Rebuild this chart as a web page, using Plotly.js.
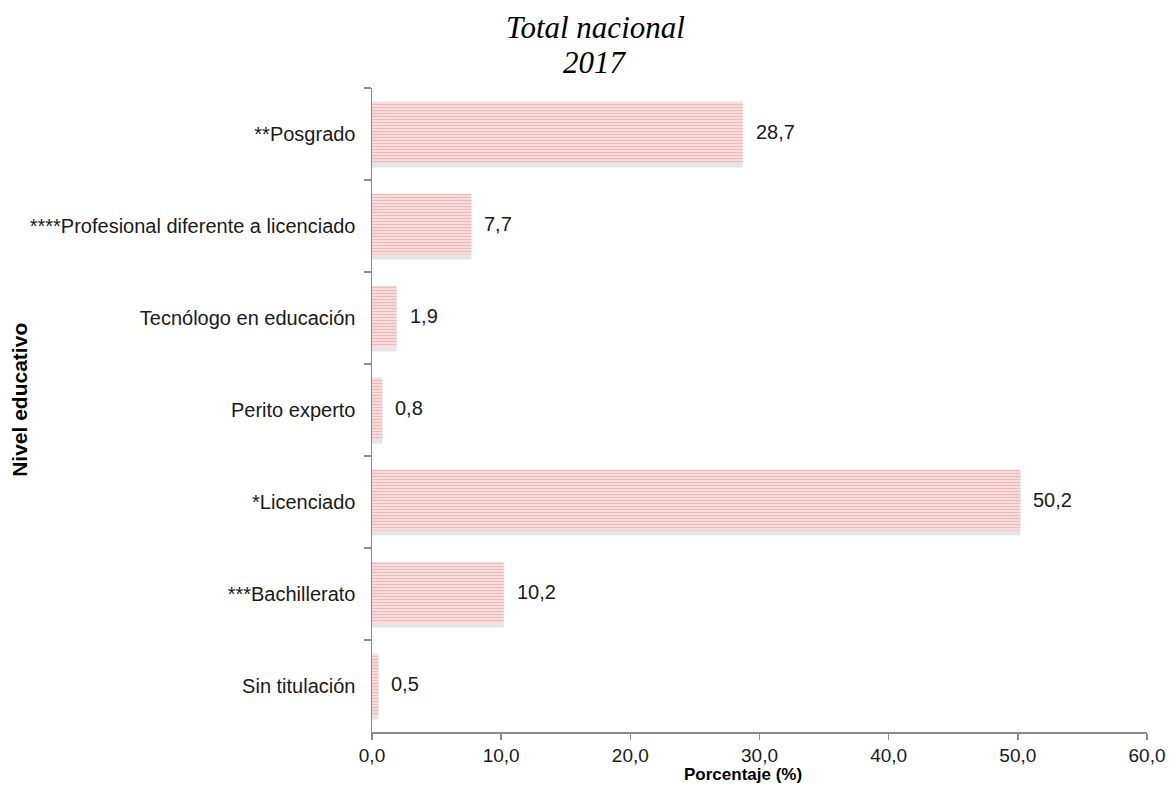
<!DOCTYPE html>
<html>
<head>
<meta charset="utf-8">
<script src="https://cdn.plot.ly/plotly-3.0.1.min.js"></script>
<style>html,body{margin:0;padding:0;background:#fff;}#chart{width:1171px;height:796px;}</style>
</head>
<body>
<div id="chart"></div>
<script>
const categories = ["**Posgrado", "****Profesional diferente a licenciado", "Tecnólogo en educación", "Perito experto", "*Licenciado", "***Bachillerato", "Sin titulación"];
const values = [28.7, 7.7, 1.9, 0.8, 50.2, 10.2, 0.5];
const valueLabels = ["28,7", "7,7", "1,9", "0,8", "50,2", "10,2", "0,5"];
const xTicks = [0, 10, 20, 30, 40, 50, 60];
const xTickLabels = ["0,0", "10,0", "20,0", "30,0", "40,0", "50,0", "60,0"];
const titleLines = ["Total nacional", "2017"];

const sans = 'Liberation Sans, Arial, Helvetica, sans-serif';

const shadow = {
  type: 'bar', orientation: 'h', y: categories, x: values,
  width: 0.66, offset: -0.295,
  marker: {color: 'rgba(0,0,0,0.10)', line: {width: 0}},
  hoverinfo: 'skip', showlegend: false
};
const bars = {
  type: 'bar', orientation: 'h', y: categories, x: values,
  width: 0.66, offset: -0.35,
  marker: {color: '#fbe4e4', line: {width: 0},
    pattern: {shape: '-', fgcolor: '#e08a8a', bgcolor: '#fce8e8', size: 3, solidity: 0.5, fillmode: 'overlay'}},
  showlegend: false
};

const annotations = [];
categories.forEach((c, i) => {
  annotations.push({xref: 'x', yref: 'y', x: values[i], y: c, text: valueLabels[i],
    xanchor: 'left', yanchor: 'middle', xshift: 11, yshift: 2, showarrow: false,
    font: {family: sans, size: 20, color: '#1a1a1a'}});
});
annotations.push({xref: 'paper', yref: 'paper', x: 0.479, y: -0.066, text: '<b>Porcentaje (%)</b>',
  xanchor: 'center', yanchor: 'middle', showarrow: false, font: {family: sans, size: 17, color: '#000'}});
annotations.push({xref: 'paper', yref: 'paper', x: -0.454, y: 0.516, text: '<b>Nivel educativo</b>', textangle: -90,
  xanchor: 'center', yanchor: 'middle', showarrow: false, font: {family: sans, size: 21, color: '#000'}});
const titleY = [1.094, 1.04];
titleLines.forEach((t, i) => {
  annotations.push({xref: 'paper', yref: 'paper', x: 0.288, y: titleY[i], text: '<i>' + t + '</i>',
    xanchor: 'center', yanchor: 'middle', showarrow: false,
    font: {family: 'Liberation Serif, Times New Roman, serif', size: 31, color: '#000'}});
});

const layout = {
  width: 1171, height: 796,
  margin: {l: 372, r: 24, t: 88, b: 64},
  paper_bgcolor: '#fff', plot_bgcolor: '#fff',
  barmode: 'overlay',
  annotations: annotations,
  xaxis: {range: [0, 60], tickvals: xTicks, ticktext: xTickLabels,
    showgrid: false, zeroline: false, showline: true, linecolor: '#8c8c8c', linewidth: 1.5,
    ticks: 'outside', ticklen: 6, tickcolor: '#8c8c8c', tickwidth: 1.5,
    tickfont: {family: sans, size: 19, color: '#1a1a1a'}},
  yaxis: {type: 'category', autorange: 'reversed', tickson: 'boundaries',
    showgrid: false, zeroline: false, showline: true, linecolor: '#8c8c8c', linewidth: 1.5,
    ticks: 'outside', ticklen: 7, tickcolor: '#8c8c8c', tickwidth: 1.5,
    ticklabelstandoff: 11,
    tickfont: {family: sans, size: 20, color: '#1a1a1a'}}
};

Plotly.newPlot('chart', [shadow, bars], layout, {displayModeBar: false, staticPlot: true});
</script>
</body>
</html>
